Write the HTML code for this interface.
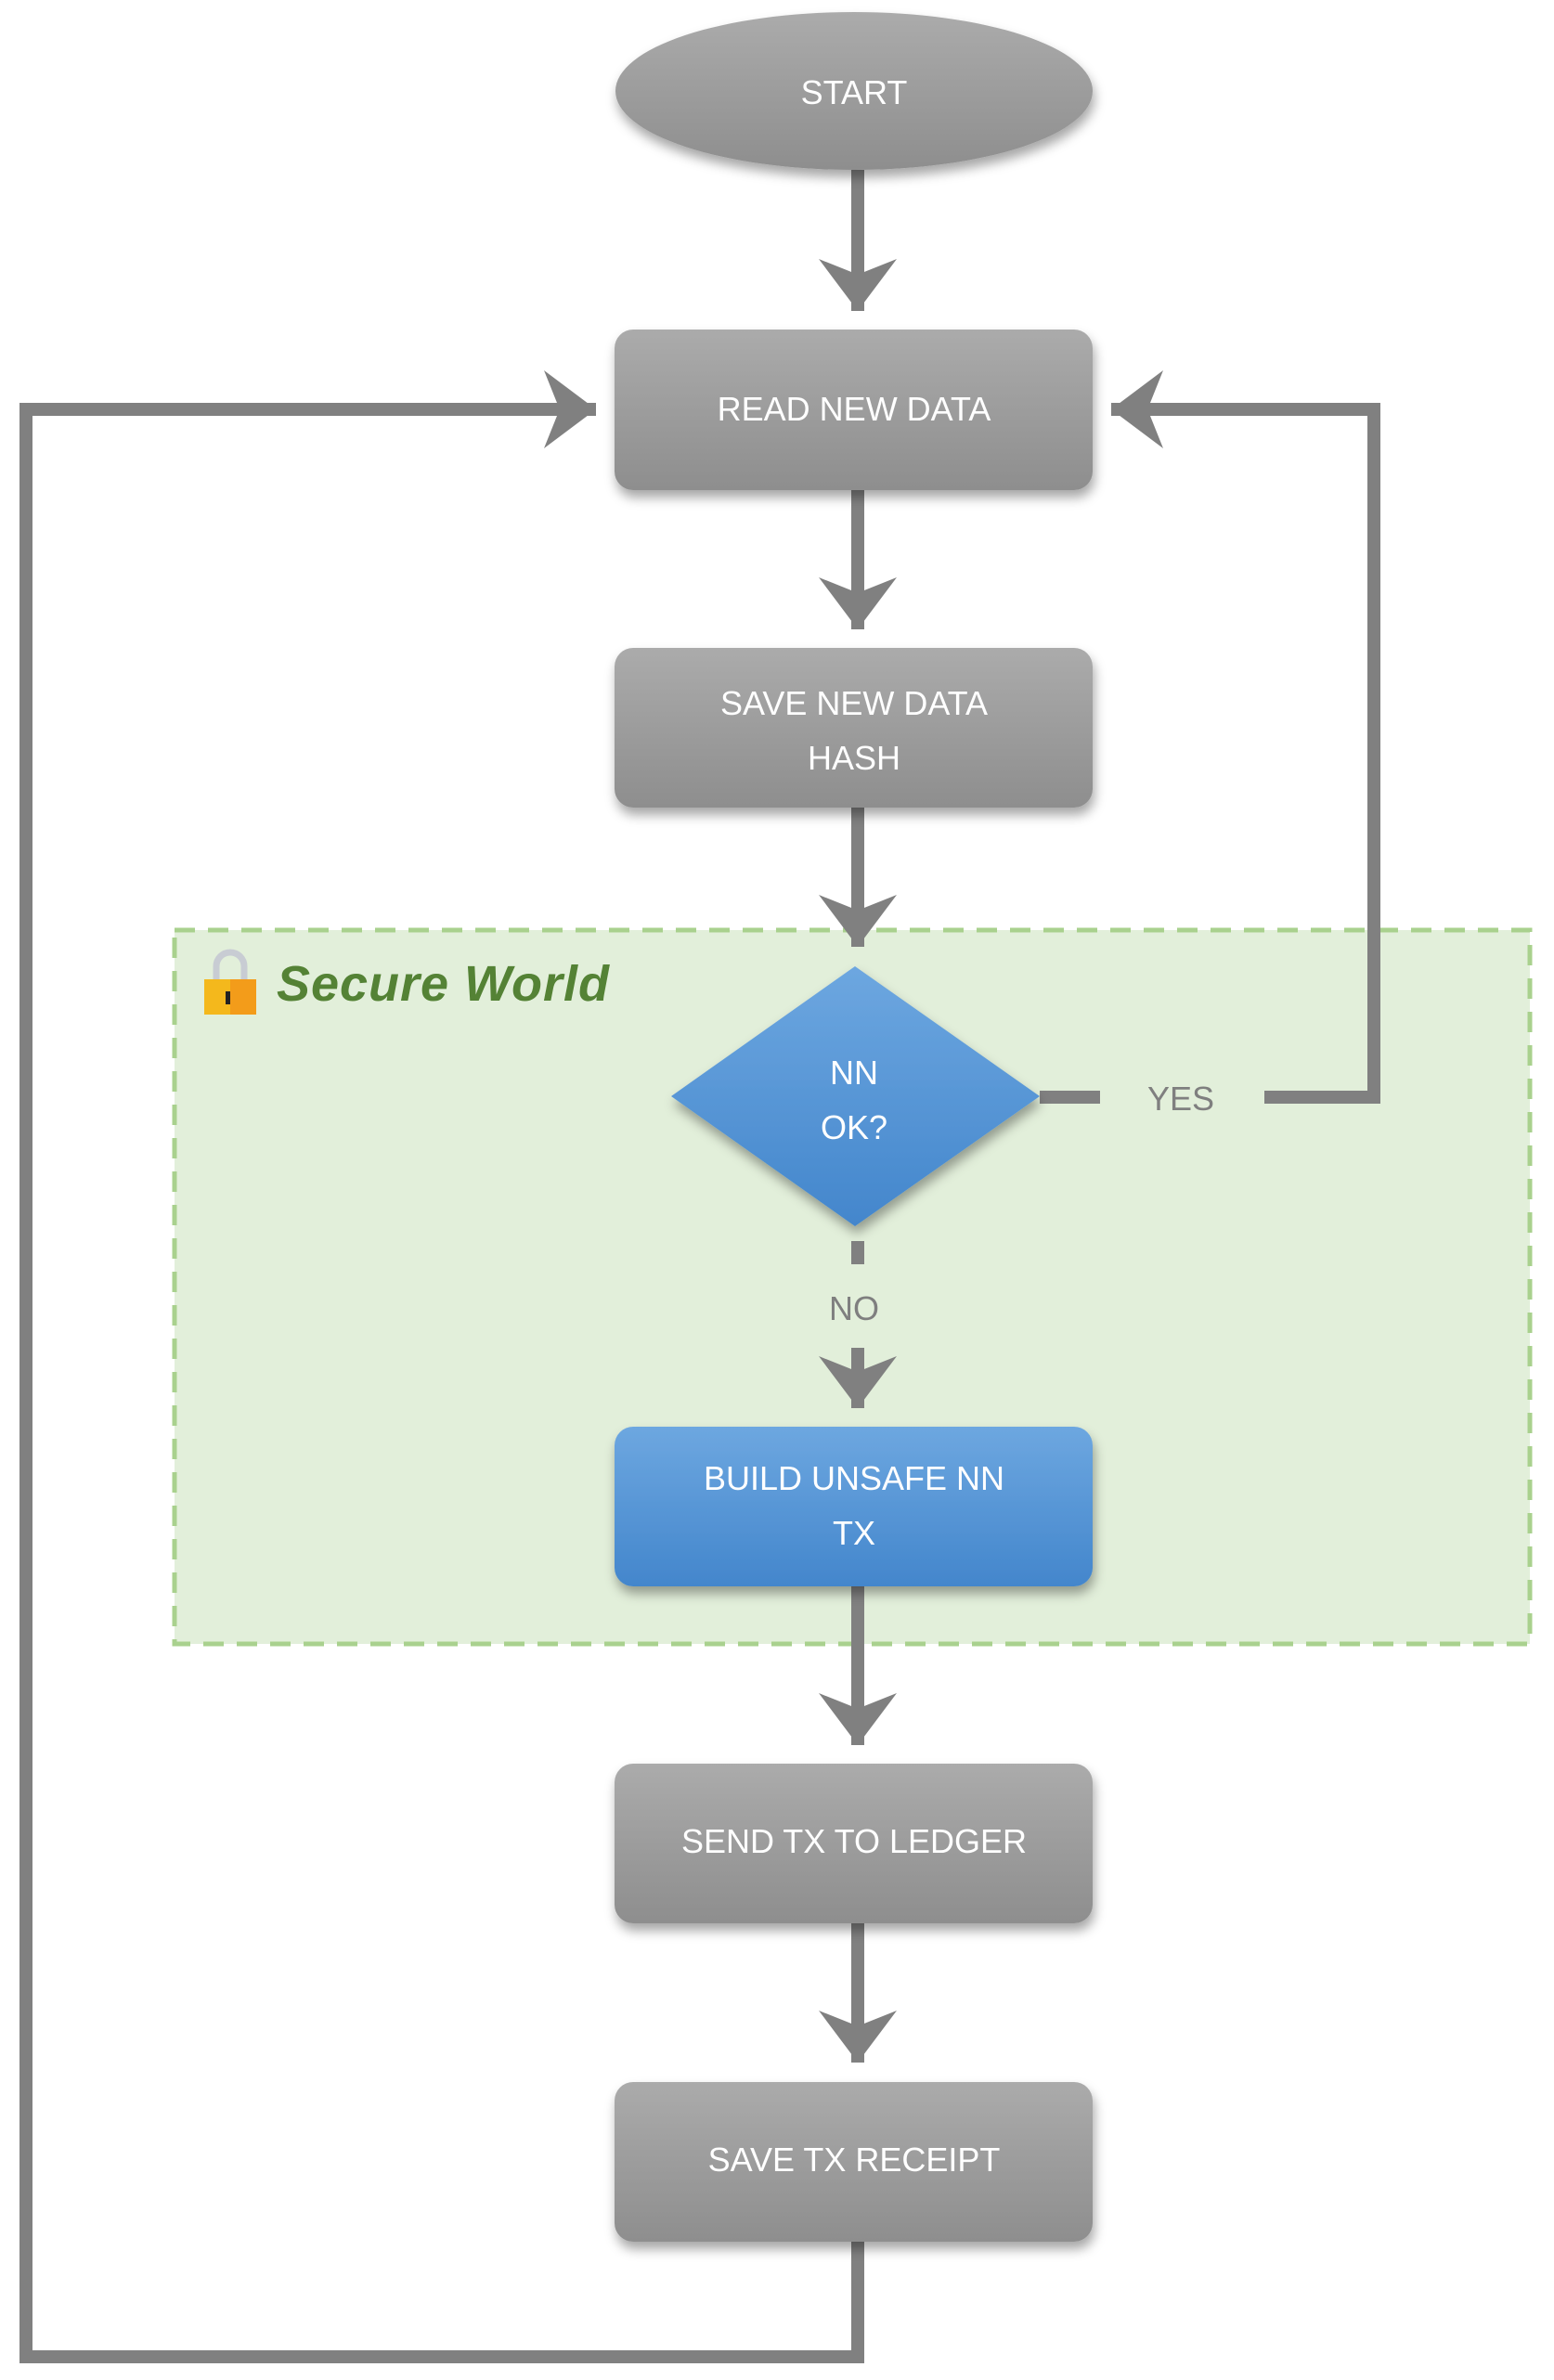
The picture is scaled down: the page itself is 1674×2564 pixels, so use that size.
<!DOCTYPE html>
<html><head><meta charset="utf-8"><style>html,body{margin:0;padding:0;background:#fff}svg{display:block}</style></head>
<body>
<svg width="1674" height="2564" viewBox="0 0 1674 2564" xmlns="http://www.w3.org/2000/svg">
<defs>
<linearGradient id="g" x1="0" y1="0" x2="0" y2="1"><stop offset="0" stop-color="#ababab"/><stop offset="1" stop-color="#8e8e8e"/></linearGradient>
<linearGradient id="b" x1="0" y1="0" x2="0" y2="1"><stop offset="0" stop-color="#6da7e0"/><stop offset="1" stop-color="#4386cc"/></linearGradient>
<filter id="s" x="-10%" y="-20%" width="120%" height="150%"><feDropShadow dx="2" dy="8" stdDeviation="6" flood-color="#000" flood-opacity="0.35"/></filter>
<marker id="a" markerWidth="6" markerHeight="6" refX="4" refY="3" orient="auto" markerUnits="strokeWidth"><path d="M0,0 L4,3 L0,6 L1.2,3 Z" fill="#808080"/></marker>
</defs>
<rect x="188" y="1002" width="1460" height="769" fill="#e2efda" stroke="#a9d18e" stroke-width="5" stroke-dasharray="22,14"/>
<g stroke="#808080" stroke-width="14" fill="none">
<line x1="924" y1="183" x2="924" y2="335" marker-end="url(#a)"/>
<line x1="924" y1="528" x2="924" y2="678" marker-end="url(#a)"/>
<line x1="924" y1="870" x2="924" y2="1020" marker-end="url(#a)"/>
<line x1="924" y1="1337" x2="924" y2="1362"/>
<line x1="924" y1="1452" x2="924" y2="1517" marker-end="url(#a)"/>
<line x1="924" y1="1709" x2="924" y2="1880" marker-end="url(#a)"/>
<line x1="924" y1="2072" x2="924" y2="2222" marker-end="url(#a)"/>
<polyline points="924,2415 924,2539 28,2539 28,441 642,441" marker-end="url(#a)"/>
<line x1="1120" y1="1182" x2="1185" y2="1182"/>
<polyline points="1362,1182 1480,1182 1480,441 1197,441" marker-end="url(#a)"/>
</g>
<g filter="url(#s)">
<ellipse cx="920" cy="98" rx="257" ry="85" fill="url(#g)"/>
<rect x="662" y="355" width="515" height="173" rx="20" fill="url(#g)"/>
<rect x="662" y="698" width="515" height="172" rx="20" fill="url(#g)"/>
<polygon points="921,1041 1120,1181 921,1321 723,1181" fill="url(#b)"/>
<rect x="662" y="1537" width="515" height="172" rx="20" fill="url(#b)"/>
<rect x="662" y="1900" width="515" height="172" rx="20" fill="url(#g)"/>
<rect x="662" y="2243" width="515" height="172" rx="20" fill="url(#g)"/>
</g>
<g font-family="Liberation Sans, sans-serif" font-size="36" fill="#fff" text-anchor="middle">
<text x="920" y="112">START</text>
<text x="920" y="453">READ NEW DATA</text>
<text x="920" y="770">SAVE NEW DATA</text>
<text x="920" y="829">HASH</text>
<text x="920" y="1168">NN</text>
<text x="920" y="1227">OK?</text>
<text x="920" y="1605">BUILD UNSAFE NN</text>
<text x="920" y="1664">TX</text>
<text x="920" y="1996">SEND TX TO LEDGER</text>
<text x="920" y="2339">SAVE TX RECEIPT</text>
<text x="920" y="1422" fill="#7f7f7f">NO</text>
<text x="1272" y="1196" fill="#7f7f7f">YES</text>
</g>
<path d="M233,1055 v-14 a15,15 0 0 1 30,0 v14" fill="none" stroke="#c8ccd3" stroke-width="7"/>
<rect x="220" y="1055" width="56" height="38" fill="#f4b81c"/>
<rect x="248" y="1055" width="28" height="38" fill="#f39c1a"/>
<rect x="243" y="1068" width="5" height="14" fill="#222"/>
<text x="298" y="1078" font-family="Liberation Sans, sans-serif" font-size="54" font-weight="bold" font-style="italic" fill="#548235" textLength="358">Secure World</text>
</svg>
</body></html>
